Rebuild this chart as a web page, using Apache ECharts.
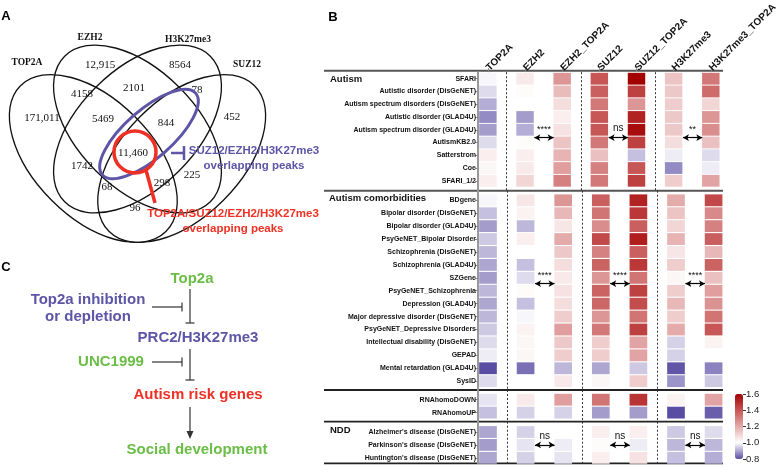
<!DOCTYPE html>
<html><head><meta charset="utf-8">
<script src="https://cdn.jsdelivr.net/npm/echarts@6/dist/echarts.min.js"></script>
<style>html,body{margin:0;padding:0;background:#fff}#c{width:780px;height:466px}</style>
</head><body><div id="c"></div>
<script>
// ---------------- DATA ----------------
const columns = ['TOP2A','EZH2','EZH2_TOP2A','SUZ12','SUZ12_TOP2A','H3K27me3','H3K27me3_TOP2A'];

const autismRows = ['SFARI','Autistic disorder (DisGeNET)','Autism spectrum disorders (DisGeNET)','Autistic disorder (GLAD4U)','Autism spectrum disorder (GLAD4U)','AutismKB2.0','Satterstrom','Coe','SFARI_1/2'];
const autismValues = [
  [0.99,1.05,1.25,1.40,1.60,1.14,1.32],
  [0.96,1.01,1.16,1.38,1.45,1.13,1.35],
  [0.91,1.00,1.08,1.32,1.25,1.12,1.10],
  [0.87,0.89,1.04,1.40,1.52,1.13,1.25],
  [0.89,0.91,1.07,1.40,1.57,1.13,1.27],
  [0.96,1.01,1.14,1.32,1.45,1.08,1.15],
  [1.04,1.04,1.18,1.15,0.93,0.98,0.96],
  [1.02,1.05,1.23,1.30,1.40,0.87,0.98],
  [1.04,1.10,1.30,1.32,1.45,1.12,1.22]
];

const comorbRows = ['BDgene','Bipolar disorder (DisGeNET)','Bipolar disorder (GLAD4U)','PsyGeNET_Bipolar Disorder','Schizophrenia (DisGeNET)','Schizophrenia (GLAD4U)','SZGene','PsyGeNET_Schizophrenia','Depression (GLAD4U)','Major depressive disorder (DisGeNET)','PsyGeNET_Depressive Disorders','Intellectual disability (DisGeNET)','GEPAD','Mental retardation (GLAD4U)','SysID'];
const comorbValues = [
  [0.99,1.06,1.25,1.38,1.52,1.20,1.43],
  [0.93,1.03,1.17,1.33,1.47,1.14,1.28],
  [0.89,0.92,1.06,1.27,1.38,1.10,1.30],
  [0.94,1.04,1.20,1.43,1.53,1.18,1.38],
  [0.92,1.00,1.13,1.30,1.38,1.06,1.17],
  [0.90,0.93,1.08,1.37,1.47,1.12,1.37],
  [0.89,0.96,1.05,1.25,1.33,1.02,1.15],
  [0.92,1.01,1.07,1.37,1.45,1.12,1.23],
  [0.90,0.93,1.08,1.36,1.42,1.17,1.26],
  [0.92,0.99,1.12,1.25,1.33,1.12,1.33],
  [0.94,1.03,1.23,1.32,1.45,1.20,1.40],
  [0.96,1.02,1.13,1.12,1.22,0.95,1.03],
  [0.98,1.02,1.12,1.12,1.22,0.95,1.00],
  [0.80,0.84,0.92,0.90,0.94,0.81,0.86],
  [0.96,1.00,1.05,1.02,1.12,0.88,0.94]
];

const rnaRows = ['RNAhomoDOWN','RNAhomoUP'];
const rnaValues = [
  [0.97,1.05,1.23,1.33,1.48,1.03,1.22],
  [0.93,0.95,0.95,0.89,0.89,0.80,0.82]
];

const nddRows = ["Alzheimer's disease (DisGeNET)","Parkinson's disease (DisGeNET)","Huntington's disease (DisGeNET)"];
const nddValues = [
  [0.90,0.95,1.00,1.04,1.04,0.94,0.96],
  [0.89,0.97,0.98,1.01,0.98,0.92,0.92],
  [0.90,0.95,0.97,1.04,1.07,0.93,0.91]
];

const autismSig = ['****','ns','**'];
const comorbSig = ['****','****','****'];
const rnaSig = [];
const nddSig = ['ns','ns','ns'];

const vennSets = ['TOP2A','EZH2','H3K27me3','SUZ12'];
const vennCounts = [12915,8564,4158,2101,78,171011,5469,844,452,11460,1742,225,68,298,96];
const vennHighlights = ['SUZ12/EZH2/H3K27me3','TOP2A/SUZ12/EZH2/H3K27me3'];

const flowNodes = ['Top2a','Top2a inhibition','or depletion','PRC2/H3K27me3','UNC1999','Autism risk genes','Social development'];

// ---------------- LAYOUT ----------------
const GRID_LEFT = 478, GRID_W = 245, ROW_H = 12.92;
const COL_STEP = 37.6, FIRST_COL = 488;
const XMIN = -(FIRST_COL - GRID_LEFT) / COL_STEP;
const XMAX = XMIN + GRID_W / COL_STEP;
const secTop = [70.7, 190.7, 390, 421.7];
const secBot = [190.7, 390, 421.7, 463.3];
const firstRow = [77.3, 200.3, 399.7, 432];
const sigRowPos = [4.62, 6.45, 0, 1.0];

const sections = [
  {rows: autismRows, values: autismValues, sig: autismSig},
  {rows: comorbRows, values: comorbValues, sig: comorbSig},
  {rows: rnaRows, values: rnaValues, sig: rnaSig},
  {rows: nddRows, values: nddValues, sig: nddSig}
];

const LABEL_FONT = '"Liberation Sans", Arial, sans-serif';
const SERIF = '"Liberation Serif", "Times New Roman", serif';
const GREEN = '#6abd45', PURPLE = '#5d55a6', RED = '#ee3124';

const grids = [], xAxes = [], yAxes = [], series = [];

function renderCell(params, api) {
  const p = api.coord([api.value(0), api.value(1)]);
  const w = api.size([0.47, 0])[0];
  const h = ROW_H - 1.1;
  return {type: 'rect', shape: {x: p[0] - w / 2, y: p[1] - h / 2, width: w, height: h},
          style: {fill: api.visual('color')}};
}

sections.forEach((sec, i) => {
  const top = secTop[i], h = secBot[i] - secTop[i];
  const ymin = -(firstRow[i] - top) / ROW_H;
  const ymax = ymin + h / ROW_H;
  const idx = sec.rows.map((_, k) => k);
  grids.push({left: GRID_LEFT, top: top, width: GRID_W, height: h, containLabel: false});
  xAxes.push({
    type: 'value', gridIndex: i, min: XMIN, max: XMAX, position: 'top',
    axisLine: {show: false, onZero: false}, splitLine: {show: false},
    axisTick: {show: i === 0, customValues: columns.map((_, k) => k), length: 4, lineStyle: {color: '#888', width: 1}},
    axisLabel: {show: i === 0, customValues: columns.map((_, k) => k), formatter: v => columns[Math.round(v)],
      rotate: -45, fontSize: 10, fontWeight: 'bold', color: '#111', fontFamily: LABEL_FONT, margin: 3}
  });
  yAxes.push({
    type: 'value', gridIndex: i, min: ymin, max: ymax, inverse: true,
    axisLine: {show: true, onZero: false, lineStyle: {color: '#999', width: 2}},
    splitLine: {show: false},
    axisTick: {show: true, customValues: idx, length: 3, lineStyle: {color: '#888'}},
    axisLabel: {show: true, customValues: idx, formatter: v => sec.rows[Math.round(v)],
      fontSize: 7, fontWeight: 'bold', color: '#111', fontFamily: LABEL_FONT, margin: 2}
  });
  const data = [];
  sec.values.forEach((row, r) => row.forEach((v, c) => data.push([c, r, v])));
  const mlData = [{xAxis: 0.5}, {xAxis: 2.5}, {xAxis: 4.5}];
  sec.sig.forEach((s, k) => {
    const c = 1 + 2 * k;
    mlData.push([
      {coord: [c + 0.25, sigRowPos[i]], symbol: 'arrow', symbolSize: [5, 6],
       lineStyle: {type: 'solid', color: '#000', width: 1.2},
       label: {show: true, formatter: s, position: 'insideMiddleTop', distance: 4,
               fontSize: s === 'ns' ? 10 : 9, color: '#111', fontFamily: LABEL_FONT}},
      {coord: [c + 0.77, sigRowPos[i]], symbol: 'arrow', symbolSize: [5, 6]}
    ]);
  });
  series.push({
    type: 'custom', xAxisIndex: i, yAxisIndex: i, data: data, encode: {x: 0, y: 1},
    renderItem: renderCell, silent: true,
    markLine: {silent: true, symbol: ['none', 'none'], animation: false,
      label: {show: false},
      lineStyle: {type: [2, 2], color: '#333', width: 1},
      data: mlData}
  });
});

// colorbar axis grid
grids.push({left: 735, top: 394, width: 8, height: 65});
xAxes.push({type: 'value', gridIndex: 4, show: false, min: 0, max: 1});
yAxes.push({type: 'value', gridIndex: 4, min: 0.8, max: 1.6, interval: 0.2, position: 'right',
  axisLine: {show: false, onZero: false}, splitLine: {show: false},
  axisTick: {show: true, length: 3, lineStyle: {color: '#333'}},
  axisLabel: {fontSize: 9.5, color: '#222', fontFamily: LABEL_FONT, margin: 3, formatter: v => v.toFixed(1)}});

// ---------------- GRAPHIC ----------------
const g = [];
function txt(x, y, text, font, fill, align) {
  g.push({type: 'text', x: x, y: y, silent: true,
    style: {text: text, font: font, fill: fill, textAlign: align || 'center', textVerticalAlign: 'middle',
            align: align || 'center', verticalAlign: 'middle'}});
}
function line(x1, y1, x2, y2, color, w) {
  g.push({type: 'line', silent: true, shape: {x1, y1, x2, y2}, style: {stroke: color, lineWidth: w}});
}
txt(6, 16, 'A', 'bold 13px ' + LABEL_FONT, '#000');
txt(333, 17, 'B', 'bold 13px ' + LABEL_FONT, '#000');
txt(6, 267, 'C', 'bold 13px ' + LABEL_FONT, '#000');

const vennEll = [
  [93.3, 158.5, -Math.PI / 4],
  [137.5, 129, -Math.PI / 4],
  [137.5, 129, Math.PI / 4],
  [181.7, 158.5, Math.PI / 4]
];
vennEll.forEach(e => g.push({type: 'ellipse', x: e[0], y: e[1], rotation: e[2], silent: true,
  shape: {cx: 0, cy: 0, rx: 103, ry: 59}, style: {fill: null, stroke: '#111', lineWidth: 1.3}}));
const vennSetPos = [[27, 63], [90, 38], [188, 40], [247, 65]];
vennSets.forEach((s, k) => txt(vennSetPos[k][0], vennSetPos[k][1], s, 'bold 9.5px ' + SERIF, '#111'));
const vennCountPos = [[100,65],[180,65],[82,94],[134,88],[197,90],[42,118],[103,119],[166,123],[232,117],[133,153],[82,166],[192,175],[107,187],[162,183],[135,208]];
vennCounts.forEach((n, k) => txt(vennCountPos[k][0], vennCountPos[k][1],
  n >= 10000 ? n.toLocaleString('en-US') : String(n), '11px ' + SERIF, '#111'));
g.push({type: 'ellipse', x: 149, y: 134, rotation: 0.72, silent: true,
  shape: {cx: 0, cy: 0, rx: 62, ry: 24}, style: {fill: null, stroke: PURPLE, lineWidth: 3}});
line(171, 153, 184, 153, PURPLE, 2.5);
line(184, 146, 184, 160, PURPLE, 2.5);
txt(254, 151, vennHighlights[0], 'bold 11.5px ' + LABEL_FONT, PURPLE);
txt(254, 166, 'overlapping peaks', 'bold 11.5px ' + LABEL_FONT, PURPLE);
g.push({type: 'circle', silent: true, shape: {cx: 135, cy: 152, r: 21}, style: {fill: null, stroke: RED, lineWidth: 3.5}});
line(146, 170, 155, 203, RED, 3.5);
txt(233, 214, vennHighlights[1], 'bold 11.5px ' + LABEL_FONT, RED);
txt(233, 229, 'overlapping peaks', 'bold 11.5px ' + LABEL_FONT, RED);

txt(330, 79, 'Autism', 'bold 9.5px ' + LABEL_FONT, '#111', 'left');
txt(329, 198, 'Autism comorbidities', 'bold 9.5px ' + LABEL_FONT, '#111', 'left');
txt(330, 430, 'NDD', 'bold 9.5px ' + LABEL_FONT, '#111', 'left');
line(324, 70.7, 723, 70.7, '#555', 2);
line(324, 190.7, 723, 190.7, '#555', 2);
line(324, 390, 723, 390, '#222', 1.8);
line(324, 421.7, 723, 421.7, '#222', 1.8);
line(324, 463.3, 723, 463.3, '#222', 1.8);

const FF = 'bold 15px ' + LABEL_FONT;
txt(192, 279, flowNodes[0], FF, GREEN);
txt(88, 300, flowNodes[1], FF, PURPLE);
txt(88, 317, flowNodes[2], FF, PURPLE);
txt(198, 338, flowNodes[3], FF, PURPLE);
txt(111, 362, flowNodes[4], FF, GREEN);
txt(198, 395, flowNodes[5], FF, RED);
txt(197, 450, flowNodes[6], FF, GREEN);
const LC = '#333';
line(190, 289, 190, 323, LC, 1.2); line(185.5, 323, 194.5, 323, LC, 1.2);
line(152, 307, 182, 307, LC, 1.2); line(182, 302.5, 182, 311.5, LC, 1.2);
line(190, 349, 190, 380, LC, 1.2); line(185.5, 380, 194.5, 380, LC, 1.2);
line(152, 362, 182, 362, LC, 1.2); line(182, 357.5, 182, 366.5, LC, 1.2);
line(190, 407, 190, 433, LC, 1.2);
g.push({type: 'polygon', silent: true, shape: {points: [[186.5, 431], [193.5, 431], [190, 439]]}, style: {fill: LC}});

const option = {
  animation: false,
  backgroundColor: '#fff',
  grid: grids, xAxis: xAxes, yAxis: yAxes, series: series,
  visualMap: {
    type: 'continuous', min: 0.8, max: 1.6, dimension: 2, seriesIndex: [0, 1, 2, 3],
    calculable: false, orient: 'vertical', left: 735, top: 394, itemWidth: 8, itemHeight: 65,
    padding: 0, text: null, showLabel: false,
    inRange: {color: ['#594ca3', '#ffffff', '#e4abab', '#c75656', '#a30000']}
  },
  graphic: {elements: g}
};
const chart = echarts.init(document.getElementById('c'));
chart.setOption(option);
</script></body></html>
